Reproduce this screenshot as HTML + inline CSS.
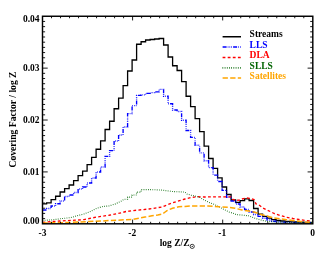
<!DOCTYPE html>
<html><head><meta charset="utf-8"><style>
html,body{margin:0;padding:0;background:#fff;}
svg{display:block;will-change:transform;opacity:0.999}
text{font-family:"Liberation Serif",serif;font-weight:bold;font-size:9.5px;fill:#000}
</style></head><body>
<svg width="336" height="256" viewBox="0 0 336 256">
<rect width="336" height="256" fill="#fff"/>
<path d="M42.50,203.80 H46.60 V202.90 H51.10 V199.60 H55.60 V196.25 H60.10 V192.00 H64.60 V188.70 H69.10 V185.00 H73.60 V180.60 H78.10 V175.60 H82.60 V171.20 H87.10 V164.60 H91.60 V157.30 H96.10 V149.25 H100.60 V140.80 H105.10 V129.50 H109.60 V121.25 H114.10 V108.75 H118.60 V98.20 H123.10 V85.60 H127.60 V71.00 H132.10 V60.00 H136.60 V44.25 H141.10 V41.75 H145.60 V40.00 H150.10 V39.50 H154.60 V39.00 H159.10 V38.50 H163.60 V45.00 H168.10 V57.00 H172.60 V65.75 H177.10 V70.50 H181.60 V81.70 H186.10 V96.25 H190.60 V106.70 H195.10 V118.70 H199.60 V131.60 H204.10 V146.20 H208.60 V158.50 H213.10 V168.40 H217.60 V177.90 H222.10 V187.00 H226.60 V194.50 H231.10 V200.00 H235.60 V202.40 H240.10 V200.60 H244.60 V198.80 H249.10 V200.50 H253.60 V208.50 H258.10 V214.20 H262.60 V216.40 H267.10 V218.20 H271.60 V219.70 H276.10 V220.50 H280.60 V221.00 H285.10 V221.40 H289.60 V221.80 H294.10 V222.00 H298.60 V222.20 H303.10 V222.40 H307.60 V222.50 H312.10" fill="none" stroke="#000" stroke-width="1.3"/>
<path d="M42.50,210.00 H46.60 V208.50 H51.10 V206.00 H55.60 V203.75 H60.10 V201.00 H64.60 V196.50 H69.10 V195.00 H73.60 V192.50 H78.10 V189.00 H82.60 V187.00 H87.10 V183.00 H91.60 V178.00 H96.10 V172.00 H100.60 V167.00 H105.10 V156.30 H109.60 V150.60 H114.10 V141.00 H118.60 V135.00 H123.10 V127.00 H127.60 V113.60 H132.10 V105.60 H136.60 V95.40 H141.10 V94.80 H145.60 V93.40 H150.10 V92.60 H154.60 V91.80 H159.10 V89.40 H163.60 V96.25 H168.10 V103.75 H172.60 V110.00 H177.10 V111.50 H181.60 V120.20 H186.10 V130.50 H190.60 V137.40 H195.10 V145.20 H199.60 V152.80 H204.10 V160.75 H208.60 V167.60 H213.10 V175.10 H217.60 V181.50 H222.10 V190.40 H226.60 V197.25 H231.10 V201.00 H235.60 V204.00 H240.10 V207.00 H244.60 V209.50 H249.10 V212.00 H253.60 V214.50 H258.10 V216.40 H262.60 V218.25 H267.10 V220.00 H271.60 V221.20 H276.10 V221.80 H280.60 V222.10 H285.10 V222.30 H289.60 V222.40 H294.10 V222.50 H298.60 V222.60 H303.10 V222.60 H307.60 V222.60 H312.10" fill="none" stroke="#0000ff" stroke-width="1.35" stroke-dasharray="4 1.1 0.7 1.1 0.7 1.1 0.7 1.1"/>
<path d="M42.50,222.30 L60.00,221.00 L75.00,220.20 L84.00,219.60 L96.50,217.10 L109.00,215.25 L121.50,212.75 L126.00,211.50 L136.50,210.25 L149.00,209.00 L161.50,207.10 L166.25,205.25 L172.50,202.75 L178.75,200.90 L185.00,199.00 L191.25,197.50 L197.50,196.70 L204.00,197.00 L213.00,196.80 L231.00,196.80 L233.00,199.50 L236.00,200.30 L240.00,200.10 L242.00,199.00 L247.00,198.00 L251.00,198.50 L254.00,199.50 L256.00,203.90 L259.00,205.00 L263.00,208.00 L267.00,210.00 L272.00,212.30 L274.00,213.50 L280.00,215.40 L286.50,217.25 L293.00,218.50 L299.00,219.50 L305.00,220.40 L311.00,221.00" fill="none" stroke="#ff0000" stroke-width="1.35" stroke-dasharray="2.8 2.3"/>
<path d="M42.50,220.30 L51.00,220.00 L60.00,218.80 L71.00,217.50 L78.00,215.50 L84.00,214.00 L90.25,211.50 L96.50,208.40 L102.75,206.50 L109.00,205.90 L115.25,204.00 L121.50,200.90 L124.00,199.25 L127.60,199.25 L127.60,197.10 L132.10,197.10 L132.10,195.00 L136.60,195.00 L136.60,192.10 L141.10,192.10 L141.10,189.60 L150.00,189.60 L161.00,190.00 L172.50,191.50 L185.00,192.10 L187.00,194.00 L191.00,195.25 L194.00,195.75 L199.00,197.00 L204.00,199.90 L209.00,202.40 L214.00,204.25 L219.00,206.75 L224.00,209.50 L229.00,212.00 L235.00,213.90 L236.00,214.50 L248.50,215.75 L255.00,218.25 L261.00,220.00 L267.00,221.40 L273.50,222.00 L312.00,222.60" fill="none" stroke="#006400" stroke-width="1.1" stroke-dasharray="0.75 1.45"/>
<path d="M42.50,223.00 L70.00,222.50 L89.00,221.50 L103.00,220.90 L110.00,220.50 L117.00,220.25 L124.00,219.80 L133.00,219.40 L145.00,217.10 L152.00,215.80 L157.75,215.00 L162.50,214.00 L164.50,212.50 L167.00,210.60 L172.50,208.20 L178.75,206.75 L185.00,206.50 L191.25,205.90 L200.00,205.90 L208.00,206.10 L219.00,206.75 L228.50,207.40 L235.00,208.25 L242.00,210.00 L248.50,211.00 L255.00,212.30 L261.00,214.50 L267.00,216.00 L273.50,217.80 L280.00,218.75 L286.50,219.75 L293.00,220.40 L299.00,221.25 L305.00,222.00 L311.00,222.30" fill="none" stroke="#ffa500" stroke-width="1.5" stroke-dasharray="5.3 2.3"/>
<rect x="42.5" y="16.25" width="270.3" height="207.55" fill="none" stroke="#000" stroke-width="1.45"/>
<path d="M51.51,223.8v-2.0 M51.51,16.25v2.0 M60.52,223.8v-2.0 M60.52,16.25v2.0 M69.53,223.8v-2.0 M69.53,16.25v2.0 M78.54,223.8v-2.0 M78.54,16.25v2.0 M87.55,223.8v-2.0 M87.55,16.25v2.0 M96.56,223.8v-2.0 M96.56,16.25v2.0 M105.57,223.8v-2.0 M105.57,16.25v2.0 M114.58,223.8v-2.0 M114.58,16.25v2.0 M123.59,223.8v-2.0 M123.59,16.25v2.0 M132.60,223.8v-4.2 M132.60,16.25v4.2 M141.61,223.8v-2.0 M141.61,16.25v2.0 M150.62,223.8v-2.0 M150.62,16.25v2.0 M159.63,223.8v-2.0 M159.63,16.25v2.0 M168.64,223.8v-2.0 M168.64,16.25v2.0 M177.65,223.8v-2.0 M177.65,16.25v2.0 M186.66,223.8v-2.0 M186.66,16.25v2.0 M195.67,223.8v-2.0 M195.67,16.25v2.0 M204.68,223.8v-2.0 M204.68,16.25v2.0 M213.69,223.8v-2.0 M213.69,16.25v2.0 M222.70,223.8v-4.2 M222.70,16.25v4.2 M231.71,223.8v-2.0 M231.71,16.25v2.0 M240.72,223.8v-2.0 M240.72,16.25v2.0 M249.73,223.8v-2.0 M249.73,16.25v2.0 M258.74,223.8v-2.0 M258.74,16.25v2.0 M267.75,223.8v-2.0 M267.75,16.25v2.0 M276.76,223.8v-2.0 M276.76,16.25v2.0 M285.77,223.8v-2.0 M285.77,16.25v2.0 M294.78,223.8v-2.0 M294.78,16.25v2.0 M303.79,223.8v-2.0 M303.79,16.25v2.0 M42.5,218.61h2.6 M312.8,218.61h-2.6 M42.5,213.42h2.6 M312.8,213.42h-2.6 M42.5,208.23h2.6 M312.8,208.23h-2.6 M42.5,203.05h2.6 M312.8,203.05h-2.6 M42.5,197.86h2.6 M312.8,197.86h-2.6 M42.5,192.67h2.6 M312.8,192.67h-2.6 M42.5,187.48h2.6 M312.8,187.48h-2.6 M42.5,182.29h2.6 M312.8,182.29h-2.6 M42.5,177.10h2.6 M312.8,177.10h-2.6 M42.5,171.91h5.2 M312.8,171.91h-5.2 M42.5,166.72h2.6 M312.8,166.72h-2.6 M42.5,161.54h2.6 M312.8,161.54h-2.6 M42.5,156.35h2.6 M312.8,156.35h-2.6 M42.5,151.16h2.6 M312.8,151.16h-2.6 M42.5,145.97h2.6 M312.8,145.97h-2.6 M42.5,140.78h2.6 M312.8,140.78h-2.6 M42.5,135.59h2.6 M312.8,135.59h-2.6 M42.5,130.40h2.6 M312.8,130.40h-2.6 M42.5,125.21h2.6 M312.8,125.21h-2.6 M42.5,120.03h5.2 M312.8,120.03h-5.2 M42.5,114.84h2.6 M312.8,114.84h-2.6 M42.5,109.65h2.6 M312.8,109.65h-2.6 M42.5,104.46h2.6 M312.8,104.46h-2.6 M42.5,99.27h2.6 M312.8,99.27h-2.6 M42.5,94.08h2.6 M312.8,94.08h-2.6 M42.5,88.89h2.6 M312.8,88.89h-2.6 M42.5,83.70h2.6 M312.8,83.70h-2.6 M42.5,78.52h2.6 M312.8,78.52h-2.6 M42.5,73.33h2.6 M312.8,73.33h-2.6 M42.5,68.14h5.2 M312.8,68.14h-5.2 M42.5,62.95h2.6 M312.8,62.95h-2.6 M42.5,57.76h2.6 M312.8,57.76h-2.6 M42.5,52.57h2.6 M312.8,52.57h-2.6 M42.5,47.38h2.6 M312.8,47.38h-2.6 M42.5,42.19h2.6 M312.8,42.19h-2.6 M42.5,37.00h2.6 M312.8,37.00h-2.6 M42.5,31.82h2.6 M312.8,31.82h-2.6 M42.5,26.63h2.6 M312.8,26.63h-2.6 M42.5,21.44h2.6 M312.8,21.44h-2.6" stroke="#000" stroke-width="0.9" fill="none"/>
<g text-anchor="end">
<text x="39.5" y="21.8">0.04</text>
<text x="39.5" y="71.4">0.03</text>
<text x="39.5" y="123.3">0.02</text>
<text x="39.5" y="175.2">0.01</text>
<text x="39.5" y="224.2">0.00</text>
</g>
<g text-anchor="middle">
<text x="42.5" y="235.8">-3</text>
<text x="132.3" y="235.8">-2</text>
<text x="222.2" y="235.8">-1</text>
<text x="312.5" y="235.8">0</text>
<text x="174.6" y="246.2">log Z/Z</text>
<text transform="translate(15.9,119.5) rotate(-90)" style="font-size:9.65px">Covering Factor / log Z</text>
</g>
<circle cx="192.2" cy="246.4" r="2.1" fill="none" stroke="#000" stroke-width="0.75"/>
<circle cx="192.2" cy="246.4" r="0.6" fill="#000"/>
<g fill="none" stroke-width="1.35">
<path d="M222.6,36.75H241" stroke="#000" stroke-width="1.5"/>
<path d="M222.6,47H241" stroke="#0000ff" stroke-dasharray="4 1.1 0.7 1.1 0.7 1.1 0.7 1.1"/>
<path d="M222.6,57.5H241" stroke="#ff0000" stroke-dasharray="2.8 2.3"/>
<path d="M222.5,67.8H241" stroke="#006400" stroke-width="1.7" stroke-dasharray="0.7 1.5"/>
<path d="M222.6,78.1H241.1" stroke="#ffa500" stroke-width="1.5" stroke-dasharray="5.3 2.3"/>
</g>
<g style="font-size:9.75px"><text x="249.6" y="37.1">Streams</text>
<text x="249.6" y="47.5" style="fill:#0000ff">LLS</text>
<text x="249.6" y="58.1" style="fill:#ff0000">DLA</text>
<text x="249.6" y="68.5" style="fill:#006400">SLLS</text>
<text x="249.6" y="78.9" style="fill:#ffa500">Satellites</text></g>
</svg>
</body></html>
